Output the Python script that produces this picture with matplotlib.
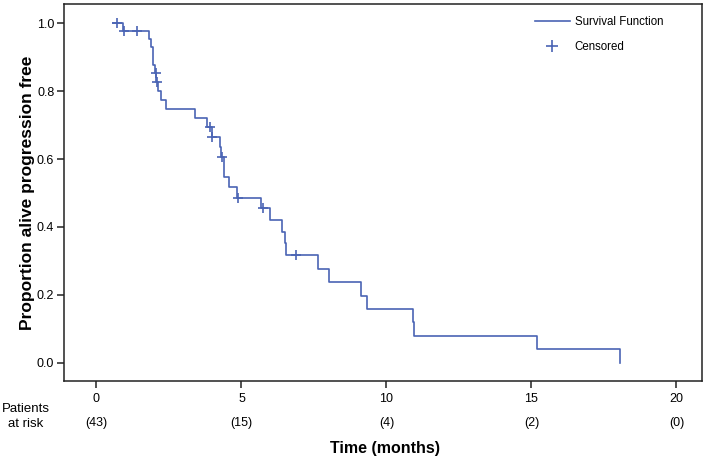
import numpy as np
import matplotlib
matplotlib.use("Agg")
import matplotlib.pyplot as plt
from matplotlib.lines import Line2D

plt.rcParams['font.family'] = ['Liberation Sans', 'DejaVu Sans']

# ---- data ----
start_time = 0.58
drop_times = [0.92, 1.82, 1.88, 1.96, 2.02, 2.06, 2.12, 2.21, 2.40, 3.41, 3.80, 3.97,
              4.26, 4.29, 4.40, 4.58, 4.83, 5.67, 5.98, 6.39, 6.50, 6.53, 7.63, 8.03,
              9.11, 9.32, 10.90, 10.96, 15.18, 18.05]
surv_after = [0.977, 0.953, 0.929, 0.877, 0.853, 0.827, 0.801, 0.774, 0.747, 0.720,
              0.694, 0.666, 0.636, 0.607, 0.548, 0.517, 0.484, 0.455, 0.420, 0.386,
              0.352, 0.317, 0.277, 0.237, 0.197, 0.158, 0.119, 0.080, 0.040, 0.0]
censor_times = [0.71, 0.95, 1.39, 2.04, 2.09, 3.91, 4.00, 4.34, 4.89, 5.75, 6.88]

xticks = [0, 5, 10, 15, 20]
at_risk = ['(43)', '(15)', '(4)', '(2)', '(0)']
yticks = [0.0, 0.2, 0.4, 0.6, 0.8, 1.0]

color = '#4a64b4'

fig = plt.figure(figsize=(7.09, 4.59), dpi=100)
ax = fig.add_axes([64/709, 1 - 381/459, (702-64)/709, (381-4)/459])

t = np.r_[start_time, drop_times]
s = np.r_[1.0, surv_after]
ax.plot(t, s, drawstyle='steps-post', color=color, lw=1.2)

# censor marks sit on the curve at their times
idx = np.searchsorted(t, censor_times, side='right') - 1
cs = s[idx]
ax.plot(censor_times, cs, linestyle='none', marker='+', markersize=6.5,
        markeredgewidth=1.2, color=color)

ax.set_xlim(-1.12, 20.88)
ax.set_ylim(-0.054, 1.057)
ax.set_xticks(xticks)
ax.set_xticklabels([str(v) for v in xticks])
ax.set_yticks(yticks)
ax.set_yticklabels([f'{v:.1f}' for v in yticks])
ax.tick_params(axis='both', labelsize=9, length=5, width=1.1, color='#222222')
ax.tick_params(axis='x', pad=3.5)
ax.tick_params(axis='y', pad=2)
for sp in ax.spines.values():
    sp.set_linewidth(1.1)
    sp.set_color('#222222')

ax.set_ylabel('Proportion alive progression free', fontsize=12.5, fontweight='bold',
              labelpad=1.5)

# patients at risk
for xv, lab in zip(xticks, at_risk):
    ax.annotate(lab, xy=(xv, 0), xycoords=('data', 'figure fraction'),
                xytext=(xv, 1 - 423/459), textcoords=('data', 'figure fraction'),
                ha='center', va='center', fontsize=9)
fig.text(26/709, 1 - 409/459, 'Patients', ha='center', va='center', fontsize=9.5)
fig.text(26/709, 1 - 424/459, 'at risk', ha='center', va='center', fontsize=9.5)
fig.text(385/709, 1 - 449/459, 'Time (months)', ha='center', va='center',
         fontsize=11.5, fontweight='bold')

handles = [Line2D([], [], color=color, lw=1.2),
           Line2D([], [], color=color, linestyle='none', marker='+', markersize=9,
                  markeredgewidth=1.2)]
ax.legend(handles, ['Survival Function', 'Censored'], loc='upper left',
          bbox_to_anchor=((535-64)/638, (381-16)/377), frameon=False,
          fontsize=8.3, handlelength=3.0, handletextpad=0.45, labelspacing=1.1,
          borderpad=0, borderaxespad=0)

fig.savefig('out.png', dpi=100)
